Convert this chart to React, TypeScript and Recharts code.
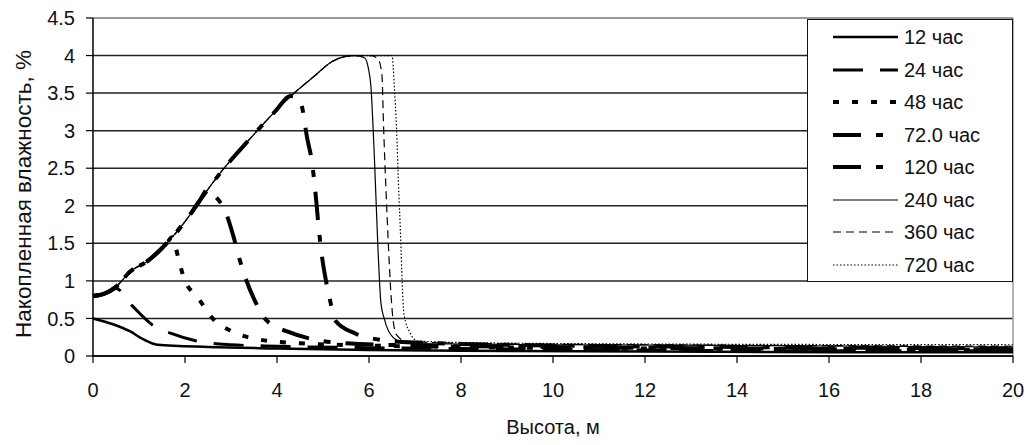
import React from 'react';
import { LineChart, Line, XAxis, YAxis, CartesianGrid, Legend, ReferenceLine } from 'recharts';

const FONT = "'Liberation Sans', Arial, Helvetica, sans-serif";

const xTicks = [0, 2, 4, 6, 8, 10, 12, 14, 16, 18, 20];
const yTicks = [0, 0.5, 1, 1.5, 2, 2.5, 3, 3.5, 4, 4.5];
const seriesNames = ['12 час', '24 час', '48 час', '72.0 час', '120 час', '240 час', '360 час', '720 час'];

type P = [number, number];

const h12: P[] = [[0, 0.5], [0.45, 0.42], [0.8, 0.33], [1.1, 0.22], [1.4, 0.15], [2.5, 0.12], [4, 0.1], [6, 0.08], [8, 0.07], [12, 0.06], [16, 0.05], [20, 0.05]];

const h24: P[] = [[0, 0.8], [0.25, 0.83], [0.5, 0.9], [0.85, 0.67], [1.3, 0.41], [1.7, 0.3], [2.25, 0.2], [3, 0.15], [4, 0.13], [6, 0.11], [8, 0.1], [12, 0.08], [16, 0.07], [20, 0.07]];

const h48: P[] = [[0, 0.8], [0.25, 0.83], [0.5, 0.92], [0.8, 1.12], [1.2, 1.27], [1.6, 1.5], [1.72, 1.58], [1.85, 1.32], [1.97, 1.05], [2.3, 0.76], [2.6, 0.5], [3.05, 0.32], [3.6, 0.22], [4.5, 0.17], [6, 0.14], [8, 0.12], [12, 0.1], [16, 0.09], [20, 0.08]];

const h72: P[] = [[0, 0.8], [0.25, 0.83], [0.5, 0.92], [0.8, 1.12], [1.2, 1.27], [1.6, 1.5], [2.0, 1.79], [2.3, 2.05], [2.5, 2.22], [2.62, 2.15], [2.88, 1.92], [3.05, 1.6], [3.18, 1.3], [3.32, 1.03], [3.5, 0.76], [3.78, 0.47], [4.25, 0.32], [4.8, 0.22], [5.5, 0.17], [7, 0.14], [10, 0.12], [14, 0.1], [20, 0.09]];

const h120: P[] = [[0, 0.8], [0.25, 0.83], [0.5, 0.92], [0.8, 1.12], [1.2, 1.27], [1.6, 1.5], [2.0, 1.79], [2.3, 2.05], [2.5, 2.22], [2.85, 2.5], [3.25, 2.78], [3.6, 3.02], [3.95, 3.25], [4.3, 3.46], [4.45, 3.45], [4.55, 3.3], [4.65, 2.92], [4.76, 2.58], [4.84, 2.15], [4.9, 1.75], [4.97, 1.36], [5.05, 1.05], [5.15, 0.75], [5.27, 0.47], [5.7, 0.3], [6.2, 0.22], [7, 0.18], [10, 0.14], [14, 0.12], [20, 0.1]];

const h240: P[] = [[0, 0.8], [0.25, 0.83], [0.5, 0.92], [0.8, 1.12], [1.2, 1.27], [1.6, 1.5], [2.0, 1.79], [2.3, 2.05], [2.5, 2.22], [2.85, 2.5], [3.25, 2.78], [3.6, 3.02], [3.95, 3.25], [4.3, 3.46], [4.8, 3.72], [5.2, 3.92], [5.5, 3.99], [5.7, 4.0], [5.9, 3.97], [5.98, 3.85], [6.04, 3.6], [6.12, 2.6], [6.19, 1.5], [6.26, 0.7], [6.33, 0.5], [6.52, 0.25], [6.8, 0.17], [8, 0.16], [10, 0.15], [14, 0.14], [20, 0.12]];

const h360: P[] = [[0, 0.8], [0.25, 0.83], [0.5, 0.92], [0.8, 1.12], [1.2, 1.27], [1.6, 1.5], [2.0, 1.79], [2.3, 2.05], [2.5, 2.22], [2.85, 2.5], [3.25, 2.78], [3.6, 3.02], [3.95, 3.25], [4.3, 3.46], [4.8, 3.72], [5.2, 3.92], [5.5, 3.99], [5.7, 4.0], [6.05, 4.0], [6.2, 3.95], [6.28, 3.75], [6.32, 3.0], [6.37, 2.2], [6.42, 1.5], [6.47, 0.9], [6.52, 0.5], [6.6, 0.28], [6.8, 0.2], [8, 0.17], [12, 0.15], [20, 0.13]];

const h720: P[] = [[0, 0.8], [0.25, 0.83], [0.5, 0.92], [0.8, 1.12], [1.2, 1.27], [1.6, 1.5], [2.0, 1.79], [2.3, 2.05], [2.5, 2.22], [2.85, 2.5], [3.25, 2.78], [3.6, 3.02], [3.95, 3.25], [4.3, 3.46], [4.8, 3.72], [5.2, 3.92], [5.5, 3.99], [5.7, 4.0], [6.2, 4.0], [6.5, 4.0], [6.55, 3.6], [6.6, 3.0], [6.64, 2.3], [6.69, 1.54], [6.72, 1.0], [6.76, 0.56], [6.9, 0.3], [7.05, 0.2], [8, 0.18], [12, 0.16], [20, 0.15]];

const seriesData = [h12, h24, h48, h72, h120, h240, h360, h720];

const lineStyles: { w: number; dash?: string }[] = [
  { w: 2.5 },
  { w: 3, dash: '30 17' },
  { w: 4, dash: '6 13' },
  { w: 4, dash: '28 15 7 15' },
  { w: 4, dash: '28 15 7 15' },
  { w: 1.2 },
  { w: 1.2, dash: '8 5' },
  { w: 1.2, dash: '1.5 2' },
];

const toRows = (pts: P[]) => pts.map(([x, y]) => ({ x, y }));

const LegendBox = () => (
  <div
    style={{
      position: 'relative',
      width: 206,
      height: 263,
      boxSizing: 'border-box',
      border: '1.5px solid #111',
      background: '#fff',
      fontFamily: FONT,
      fontSize: 20,
      color: '#111',
    }}
  >
    {seriesNames.map((name, i) => (
      <div key={name} style={{ position: 'absolute', left: 0, top: 1 + i * 32.5, height: 32, width: 200 }}>
        <svg width={66} height={32} style={{ position: 'absolute', left: 25, top: 0 }}>
          <line
            x1={0}
            y1={16}
            x2={65}
            y2={16}
            stroke="#000"
            strokeWidth={lineStyles[i].w}
            strokeDasharray={lineStyles[i].dash}
          />
        </svg>
        <span style={{ position: 'absolute', left: 96, top: 0, lineHeight: '32px', whiteSpace: 'nowrap' }}>{name}</span>
      </div>
    ))}
  </div>
);

export default function App() {
  return (
    <div style={{ position: 'absolute', left: 8, top: 8, width: 1021, height: 429 }}>
      <LineChart width={1021} height={429} margin={{ top: 10, right: 16, left: 0, bottom: 0 }} style={{ overflow: 'visible' }}>
        <CartesianGrid vertical={false} stroke="#222" strokeWidth={1.5} strokeDasharray="" />
        <XAxis
          type="number"
          dataKey="x"
          domain={[0, 20]}
          ticks={xTicks}
          interval={0}
          height={81}
          tickSize={7}
          tickMargin={20}
          axisLine={{ stroke: '#000', strokeWidth: 1.5 }}
          tickLine={{ stroke: '#000', strokeWidth: 1.2 }}
          tick={{ fill: '#111', fontSize: 20, fontFamily: FONT }}
          label={{ value: 'Высота, м', position: 'insideBottom', offset: 3, style: { fill: '#111', fontSize: 20, fontFamily: FONT } }}
        />
        <YAxis
          type="number"
          domain={[0, 4.5]}
          ticks={yTicks}
          interval={0}
          width={85}
          tickSize={7}
          tickMargin={11}
          tickFormatter={(v: number) => String(v)}
          axisLine={{ stroke: '#000', strokeWidth: 1.5 }}
          tickLine={{ stroke: '#000', strokeWidth: 1.2 }}
          tick={{ fill: '#111', fontSize: 20, fontFamily: FONT }}
          label={{
            value: 'Накопленная влажность, %',
            angle: -90,
            position: 'insideLeft',
            offset: 15,
            dy: 7,
            style: { textAnchor: 'middle', fill: '#111', fontSize: 22.5, fontFamily: FONT },
          }}
        />
        <ReferenceLine y={4.5} stroke="#999" strokeWidth={2} />
        <ReferenceLine x={20} stroke="#999" strokeWidth={1.5} />
        {seriesData.map((pts, i) => (
          <Line
            key={seriesNames[i]}
            name={seriesNames[i]}
            data={toRows(pts)}
            dataKey="y"
            type="monotone"
            stroke="#000"
            strokeWidth={lineStyles[i].w}
            strokeDasharray={lineStyles[i].dash}
            dot={false}
            activeDot={false}
            isAnimationActive={false}
          />
        ))}
        <Legend
          layout="vertical"
          align="center"
          verticalAlign="middle"
          content={() => <LegendBox />}
          wrapperStyle={{ left: 799, top: 11, width: 206, height: 263 }}
        />
      </LineChart>
    </div>
  );
}
